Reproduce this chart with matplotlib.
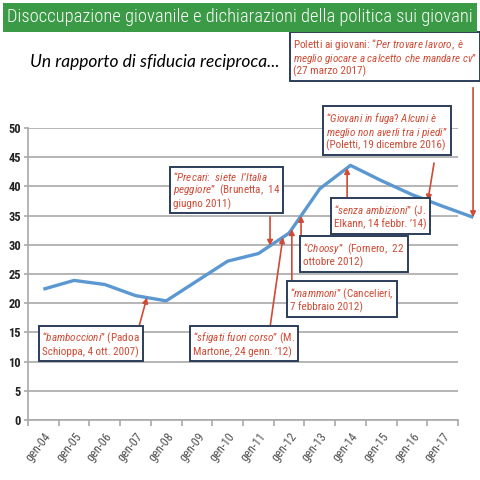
import numpy as np
import matplotlib
matplotlib.use("Agg")
import matplotlib.pyplot as plt
import matplotlib.transforms as mtransforms
from matplotlib import font_manager
from matplotlib.patches import Rectangle


# ================== DATA ==================
periods = ["gen-04", "gen-05", "gen-06", "gen-07", "gen-08", "gen-09", "gen-10",
           "gen-11", "gen-12", "gen-13", "gen-14", "gen-15", "gen-16", "gen-17"]
# youth unemployment (%), one value per period + last reading after gen-17
unemployment = [22.4, 23.9, 23.2, 21.3, 20.4, 23.8, 27.2, 28.5,
                32.0, 39.6, 43.6, 41.0, 38.6, 36.6, 34.7]
y_ticks = [0, 5, 10, 15, 20, 25, 30, 35, 40, 45, 50]

title = "Disoccupazione giovanile e dichiarazioni della politica sui giovani"
subtitle = "Un rapporto di sfiducia reciproca..."


# ================== FONTS ==================
available = {f.name for f in font_manager.fontManager.ttflist}


def pick(*names):
    for n in names:
        if n in available:
            return n
    return "DejaVu Sans"


NARROW = pick("Liberation Sans Narrow", "Roboto Condensed", "Liberation Sans")
TITLE_FONT = pick("Roboto Condensed", "Liberation Sans Narrow", "Roboto")
SUB_FONT = pick("Lato", "Open Sans", "Liberation Sans")

plt.rcParams["mathtext.fontset"] = "custom"
plt.rcParams["mathtext.rm"] = NARROW
plt.rcParams["mathtext.it"] = NARROW + ":italic"


def it(s):
    return r"$\mathit{" + s.replace(" ", r"\ ") + "}$"


# quotes: text, box (left, top) and arrow tail in data units, arrow tip x
quotes = [
    ("Poletti ai giovani: “" + it("Per trovare lavoro, è") + "\n"
     + it("meglio giocare a calcetto che mandare cv") + "”\n(27 marzo 2017)",
     (8.03, 66.3), (13.99, 56.9), 13.99),
    ("“" + it("Giovani in fuga") + "? " + it("Alcuni è") + "\n"
     + it("meglio non averli tra i piedi") + "”\n(Poletti, 19 dicembre 2016)",
     (9.10, 53.6), (12.72, 44.0), 12.52),
    ("“" + it("Precari") + ":  " + it("siete  l") + "’" + it("Italia") + "\n"
     + it("peggiore") + "”  (Brunetta,  14\ngiugno 2011)",
     (4.12, 43.5), (7.38, 34.8), 7.38),
    ("“" + it("senza ambizioni") + "” (J.\nElkann, 14 febbr. ’14)",
     (9.37, 37.7), (9.89, 37.7), 9.89),
    ("“" + it("Choosy") + "”  (Fornero,  22\nottobre 2012)",
     (8.36, 31.2), (8.39, 31.2), 8.39),
    ("“" + it("mammoni") + "” (Cancelieri,\n7 febbraio 2012)",
     (7.93, 23.5), (8.09, 23.5), 8.09),
    ("“" + it("sfigati fuori corso") + "” (M.\nMartone, 24 genn. ’12)",
     (4.77, 15.9), (7.38, 15.9), 7.80),
    ("“" + it("bamboccioni") + "” (Padoa\nSchioppa, 4 ott. 2007)",
     (-0.14, 15.9), (3.11, 15.9), 3.37),
]


# ================== COLORS ==================
GREEN = "#3b9a46"
LINE_BLUE = "#5b98d2"
GRID = "#a9a9a9"
RED = "#cf4b35"
NAVY = "#2c3d5a"


# ================== FIGURE ==================
fig = plt.figure(figsize=(4.8, 4.8), dpi=100)
fig.patch.set_facecolor("white")

# title banner
fig.patches.append(Rectangle((3 / 480, 1 - 32 / 480), 474 / 480, 29 / 480,
                             transform=fig.transFigure, facecolor=GREEN,
                             edgecolor="none", zorder=0))
t_title = fig.text(0.5, 1 - 17.5 / 480, title, color="white", fontsize=12,
                   family=TITLE_FONT, fontweight="light", ha="center", va="center")
t_sub = fig.text(30 / 480, 1 - 62 / 480, subtitle, color="black", fontsize=14,
                 family=SUB_FONT, style="italic", ha="left", va="center")

renderer = fig.canvas.get_renderer()
for txt, target in [(t_title, 464), (t_sub, 250)]:
    w = txt.get_window_extent(renderer).width
    txt.set_fontsize(txt.get_fontsize() * target / w)

# ================== CHART ==================
ax = fig.add_axes([28 / 480, 60 / 480, 430 / 480, 292 / 480])
x = np.arange(len(unemployment))
ax.plot(x, unemployment, color=LINE_BLUE, linewidth=2.4, clip_on=False,
        solid_capstyle="butt", zorder=3)

ax.set_xlim(-0.5, len(periods) - 0.5)
ax.set_ylim(0, 50)
ax.set_yticks(y_ticks)
ax.set_yticklabels([str(v) for v in y_ticks], family=NARROW, fontsize=9,
                   fontweight="bold", color="#222222")
ax.yaxis.grid(True, color=GRID, linewidth=1.2)
ax.set_axisbelow(True)

ax.set_xticks(np.arange(len(periods)))
ax.set_xticklabels(periods, rotation=52, ha="right", va="top",
                   rotation_mode="anchor", family=NARROW, fontsize=8.8,
                   color="#555555")
ax.set_xticks(np.arange(len(periods) + 1) - 0.5, minor=True)
ax.tick_params(axis="x", which="major", length=0, pad=7)
ax.tick_params(axis="x", which="minor", length=4, color=GRID, width=1.2)
ax.tick_params(axis="y", length=3, color=GRID, width=1.2, pad=2)

for side in ["top", "right"]:
    ax.spines[side].set_visible(False)
for side in ["left", "bottom"]:
    ax.spines[side].set_color(GRID)
    ax.spines[side].set_linewidth(1.2)

# ================== QUOTES ==================
text_tr = mtransforms.offset_copy(ax.transData, fig=fig, x=3, y=-4, units="dots")
for label, (bx, by), (tx, ty), tip_x in quotes:
    tip_y = np.interp(tip_x, x, unemployment)
    ax.annotate("", xy=(tip_x, tip_y), xytext=(tx, ty),
                arrowprops=dict(arrowstyle="-|>", color=RED, lw=1.2,
                                shrinkA=0, shrinkB=0, mutation_scale=8),
                annotation_clip=False, zorder=4)
    ax.text(bx, by, label, transform=text_tr, ha="left", va="top",
            family=NARROW, fontsize=8.0, color=RED, linespacing=1.0,
            clip_on=False, zorder=5,
            bbox=dict(boxstyle="square,pad=0.3", facecolor="white",
                      edgecolor=NAVY, linewidth=1.4))

fig.savefig("out.png", dpi=100)
